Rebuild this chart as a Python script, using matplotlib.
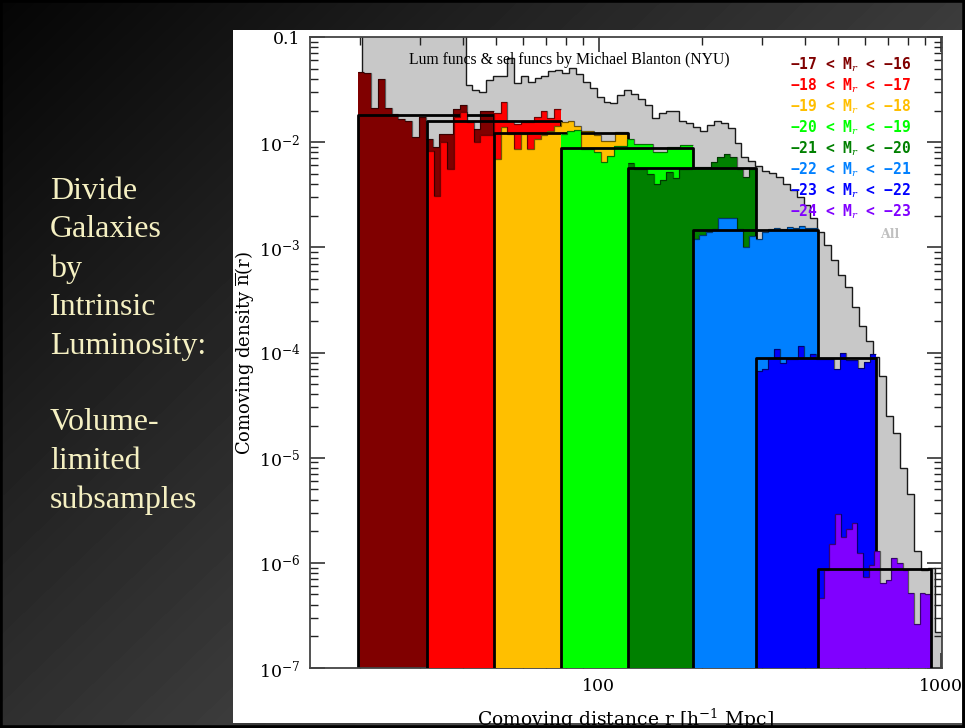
import numpy as np
import matplotlib
matplotlib.use("Agg")
import matplotlib.pyplot as plt
from matplotlib.patches import Rectangle
from matplotlib.ticker import NullFormatter

plt.rcParams["mathtext.fontset"] = "dejavuserif"

# volume-limited subsamples: distance limits [h^-1 Mpc] and mean density
sample_labels = ["−17 < M$_r$ < −16", "−18 < M$_r$ < −17", "−19 < M$_r$ < −18",
                 "−20 < M$_r$ < −19", "−21 < M$_r$ < −20", "−22 < M$_r$ < −21",
                 "−23 < M$_r$ < −22", "−24 < M$_r$ < −23"]
sample_colors = ["#800000", "#ff0000", "#ffbf00", "#00ff00",
                 "#008000", "#0080ff", "#0000ff", "#8000ff"]
r_min = [19.7, 31.4, 49.3, 77.4, 121.6, 188.5, 287.6, 436.8]
r_max = [49.3, 77.4, 121.6, 188.5, 287.6, 436.8, 645.6, 935.0]
n_mean = [1.81e-2, 1.58e-2, 1.22e-2, 8.77e-3, 5.65e-3, 1.45e-3, 8.8e-5, 8.8e-7]

# binned density n(r) of each subsample (equal bins in log r)
dens_m16 = [0.0464, 0.0454, 0.0211, 0.0398, 0.0211, 0.0185, 0.0166, 0.0158, 0.0112, 0.0173,
            0.0107, 0.0090, 0.0120, 0.0120, 0.0206, 0.0225, 0.0145, 0.0133, 0.0197, 0.0197]
dens_m17 = [0.0082, 0.0031, 0.0100, 0.0055, 0.0173, 0.0193, 0.0155, 0.0100, 0.0118, 0.0118,
            0.0189, 0.0240, 0.0160, 0.0150, 0.0155, 0.0155, 0.0175, 0.0197, 0.0168, 0.0205]
dens_m18 = [0.0069, 0.0138, 0.0119, 0.0086, 0.0119, 0.0086, 0.0107, 0.0117, 0.0127, 0.0142,
            0.0155, 0.0158, 0.0142, 0.0127, 0.0127, 0.0117, 0.0102, 0.0102, 0.0124, 0.0124]
dens_m19 = [0.0119, 0.0127, 0.0130, 0.0086, 0.0086, 0.0080, 0.0065, 0.0074, 0.0092, 0.0092,
            0.0107, 0.0096, 0.0096, 0.0096, 0.0080, 0.0080, 0.0089, 0.0089, 0.0094, 0.0094]
dens_m20 = [0.0064, 0.0055, 0.0055, 0.0050, 0.0040, 0.0044, 0.0052, 0.0046, 0.0055, 0.0055,
            0.0058, 0.0058, 0.0058, 0.0065, 0.0072, 0.0077, 0.0072, 0.0055, 0.0047, 0.0055]
dens_m21 = [1.2e-3, 1.3e-3, 1.4e-3, 1.5e-3, 1.9e-3, 1.9e-3, 1.9e-3, 1.5e-3, 1.0e-3, 1.28e-3,
            1.2e-3, 1.4e-3, 1.5e-3, 1.52e-3, 1.48e-3, 1.55e-3, 1.52e-3, 1.58e-3, 1.52e-3, 1.52e-3]
dens_m22 = [6.6e-5, 7.0e-5, 8.8e-5, 1.07e-4, 7.9e-5, 8.6e-5, 8.6e-5, 1.15e-4, 8.8e-5, 9.6e-5,
            8.6e-5, 8.6e-5, 8.6e-5, 6.9e-5, 1.0e-4, 8.4e-5, 8.4e-5, 7.2e-5, 8.2e-5, 9.6e-5]
dens_m23 = [4.6e-7, 8.6e-7, 1.5e-6, 2.9e-6, 1.75e-6, 2.1e-6, 2.4e-6, 1.25e-6, 7.4e-7, 9.5e-7,
            1.3e-6, 6.4e-7, 6.9e-7, 1.1e-6, 1.0e-6, 8.6e-7, 5.2e-7, 2.6e-7, 5.2e-7, 5.0e-7]
sample_dens = [dens_m16, dens_m17, dens_m18, dens_m19, dens_m20, dens_m21, dens_m22, dens_m23]

# all galaxies
all_rmin, all_rmax = 20.3, 1004.0
all_dens = [0.25, 0.3, 0.28, 0.3, 0.26, 0.24, 0.22, 0.2, 0.18, 0.17, 0.16, 0.15, 0.14, 0.13, 0.12,
            0.035, 0.031, 0.030, 0.039, 0.043, 0.043, 0.063, 0.0365, 0.043, 0.037,
            0.041, 0.043, 0.047, 0.049, 0.045, 0.051, 0.044, 0.037, 0.033, 0.027,
            0.024, 0.0235, 0.028, 0.031, 0.029, 0.026, 0.0225, 0.017, 0.019, 0.020,
            0.020, 0.016, 0.0152, 0.0140, 0.0127, 0.0145, 0.0158, 0.0151, 0.0136, 0.0099,
            0.0072, 0.0066, 0.0059, 0.0053, 0.0051, 0.0047, 0.0040, 0.0035, 0.0030, 0.0025,
            0.0019, 0.0014, 0.00105, 7.5e-4, 5.5e-4, 4.2e-4, 2.7e-4, 1.8e-4, 1.3e-4, 9.0e-5,
            6.0e-5, 2.5e-5, 1.7e-5, 8.0e-6, 4.5e-6, 1.3e-6, 8.6e-7, 9.0e-7, 2.2e-7]

y_ticks = [1e-7, 1e-6, 1e-5, 1e-4, 1e-3, 1e-2, 0.1]
y_ticklabels = ["10$^{-7}$", "10$^{-6}$", "10$^{-5}$", "10$^{-4}$", "10$^{-3}$", "10$^{-2}$", "0.1"]
x_ticks = [100, 1000]
x_ticklabels = ["100", "1000"]

slide_text = "Divide\nGalaxies\nby\nIntrinsic\nLuminosity:\n\nVolume-\nlimited\nsubsamples"

W, H = 965, 728
fig = plt.figure(figsize=(W / 100, H / 100), dpi=100)

# slide background
bg = fig.add_axes([0, 0, 1, 1], zorder=-5)
yy, xx = np.mgrid[0:1:200j, 0:1:260j]
shade = 0.02 + 0.30 * np.clip(0.7 * xx + 0.55 * yy, 0, 1)
bg.imshow(shade, cmap="gray", vmin=0, vmax=1, extent=[0, W, H, 0],
          aspect="auto", interpolation="bilinear")
bg.add_patch(Rectangle((233, 30), 729, 693, facecolor="white", edgecolor="none"))
bg.set_xlim(0, W)
bg.set_ylim(H, 0)
bg.axis("off")

fig.text(50 / W, 1 - 177 / H, slide_text, family="Liberation Serif", fontsize=23,
         color="#f5f0c2", va="top", ha="left", linespacing=1.43)

ax = fig.add_axes([310 / W, 1 - 668 / H, 632 / W, 631 / H])
ax.set_xscale("log")
ax.set_yscale("log")
base = 1e-9

edges = np.logspace(np.log10(all_rmin), np.log10(all_rmax), len(all_dens) + 1)
ax.stairs(all_dens, edges, baseline=base, fill=True, color="#c8c8c8", zorder=1)
ax.stairs(all_dens, edges, baseline=base, color="#1a1a1a", lw=1.0, zorder=1.1)

for i, dens in enumerate(sample_dens):
    edges = np.logspace(np.log10(r_min[i]), np.log10(r_max[i]), len(dens) + 1)
    z = 2 + i
    ax.stairs(dens, edges, baseline=base, fill=True, color=sample_colors[i], zorder=z)
    ax.stairs(dens, edges, baseline=None, color="black", alpha=0.55, lw=0.9, zorder=z + 0.1)
    ax.plot([r_min[i], r_min[i], r_max[i], r_max[i]], [base, n_mean[i], n_mean[i], base],
            color="black", lw=2.0, zorder=z + 0.2)

ax.set_xlim(14.3, 1007)
ax.set_ylim(1e-7, 0.1)
ax.set_yticks(y_ticks, y_ticklabels)
ax.set_xticks(x_ticks, x_ticklabels)
ax.xaxis.set_minor_formatter(NullFormatter())
ax.yaxis.set_minor_formatter(NullFormatter())
for lab in ax.get_xticklabels() + ax.get_yticklabels():
    lab.set_family("DejaVu Serif")
ax.tick_params(which="both", direction="in", top=True, right=True, color="#222222")
ax.tick_params(which="major", length=11, width=1.1, labelsize=12.5, pad=7)
ax.tick_params(which="minor", length=6, width=1.0)
for s in ax.spines.values():
    s.set_color("#444444")
    s.set_linewidth(1.3)

ax.set_ylabel(r"Comoving density $\overline{\mathrm{n}}(\mathrm{r})$", family="DejaVu Serif",
              fontsize=13)
ax.yaxis.set_label_coords(-0.086, 0.5)
ax.set_xlabel(r"Comoving distance r [h$^{-1}$ Mpc]", family="DejaVu Serif", fontsize=13.5)
ax.xaxis.set_label_coords(0.5, -0.061)

ax.text(0.41, 0.976, "Lum funcs & sel funcs by Michael Blanton (NYU)", transform=ax.transAxes,
        family="Liberation Serif", fontsize=11.3, ha="center", va="top", zorder=20)

for i, lab in enumerate(sample_labels):
    fig.text(790 / W, 1 - (65 + 21 * i) / H, lab, color=sample_colors[i], fontsize=10.5,
             family="DejaVu Sans Mono", weight="bold", ha="left", va="center")
fig.text(890 / W, 1 - 234 / H, "All", color="#c0c0c0", fontsize=9, family="DejaVu Serif",
         weight="bold", ha="center", va="center")

fig.add_artist(Rectangle((0, 0), 1, 1, transform=fig.transFigure, fill=False,
                         edgecolor="black", lw=4, zorder=10))

fig.savefig("out.png", dpi=100)
